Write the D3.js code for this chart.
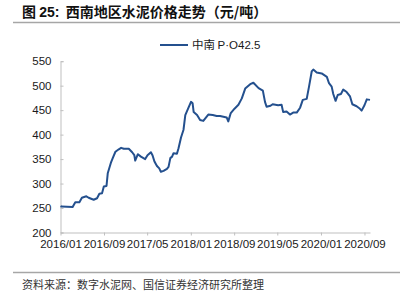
<!DOCTYPE html>
<html>
<head>
<meta charset="utf-8">
<script src="https://cdn.jsdelivr.net/npm/d3@7"></script>
<style>
  body { margin: 0; background: #fff; }
  svg { display: block; }
</style>
</head>
<body>
<div id="chart"></div>
<script>
// 中南 P·O42.5 price
var dates = [
  "2016-01-01", "2016-01-06", "2016-03-09", "2016-03-24", "2016-04-16", "2016-04-30",
  "2016-05-25", "2016-06-07", "2016-07-05", "2016-07-24", "2016-08-06", "2016-08-21",
  "2016-08-31", "2016-09-15", "2016-09-22", "2016-10-11", "2016-10-20", "2016-11-04",
  "2016-11-23", "2016-12-06", "2016-12-21", "2017-01-18", "2017-02-06", "2017-02-18",
  "2017-02-23", "2017-03-10", "2017-03-27", "2017-04-20", "2017-05-03", "2017-05-22",
  "2017-05-31", "2017-06-11", "2017-06-25", "2017-07-08", "2017-07-17", "2017-08-01",
  "2017-08-20", "2017-08-29", "2017-09-08", "2017-09-18", "2017-09-26", "2017-10-15",
  "2017-10-24", "2017-11-07", "2017-11-21", "2017-12-01", "2017-12-19", "2018-01-02",
  "2018-01-11", "2018-01-17", "2018-02-05", "2018-02-22", "2018-03-12", "2018-04-09",
  "2018-05-04", "2018-05-26", "2018-06-14", "2018-07-21", "2018-07-30", "2018-08-13",
  "2018-09-03", "2018-09-25", "2018-10-14", "2018-11-02", "2018-11-30", "2018-12-18",
  "2019-01-16", "2019-02-09", "2019-02-21", "2019-03-02", "2019-03-24", "2019-04-05",
  "2019-05-06", "2019-05-25", "2019-06-03", "2019-06-22", "2019-07-11", "2019-07-29",
  "2019-08-18", "2019-09-06", "2019-09-21", "2019-10-13", "2019-10-26", "2019-11-10",
  "2019-11-19", "2019-12-08", "2020-01-05", "2020-02-03", "2020-02-15", "2020-03-01",
  "2020-03-10", "2020-03-23", "2020-04-04", "2020-04-22", "2020-05-05", "2020-05-24",
  "2020-06-12", "2020-06-25", "2020-07-19", "2020-08-03", "2020-08-16", "2020-09-01",
  "2020-09-14", "2020-10-02"
];
var prices = [
  254, 253, 252, 262, 262, 271,
  274, 271, 267, 270, 279, 280,
  294, 295, 321, 344, 352, 365,
  370, 373, 371, 371, 364, 358,
  347, 360, 355, 350, 358, 364,
  358, 345, 336, 331, 324, 326,
  330, 334, 352, 355, 362, 361,
  372, 394, 410, 440, 455, 467,
  464, 446, 440, 430, 428, 441,
  440, 438, 438, 435, 427, 444,
  453, 461, 474, 494, 503, 506,
  495, 490, 467, 457, 459, 462,
  460, 461, 446, 447, 441, 445,
  445, 455, 471, 473, 498, 529,
  533, 527, 525, 518, 505, 498,
  483, 469, 481, 483, 492, 487,
  478, 462, 458, 454, 449, 460,
  472, 471
];
var seriesName = ["中南 ", "P·O42.5"];
var tickLabels = ["2016/01", "2016/09", "2017/05", "2018/01", "2018/09", "2019/05", "2020/01", "2020/09"];
var yTicks = [200, 250, 300, 350, 400, 450, 500, 550];
var titleParts = ["图 ", "25:", "  西南地区水泥价格走势（元/吨）"];
var source = "资料来源：数字水泥网、国信证券经济研究所整理";

var width = 406, height = 298;
var cjk = "'Noto Sans CJK SC', sans-serif";
var latin = "'Liberation Sans', Arial, sans-serif";
var parse = d3.timeParse("%Y-%m-%d");
var tickParse = d3.timeParse("%Y/%m");
var data = dates.map(function (d, i) { return { date: parse(d), value: prices[i] }; });

var svg = d3.select("#chart").append("svg")
    .attr("width", width)
    .attr("height", height);

var x = d3.scaleTime()
    .domain(d3.extent(data, function (d) { return d.date; }))
    .range([60.5, 370]);

var y = d3.scaleLinear()
    .domain([200, 550])
    .range([232.5, 61.2]);

// title + rules
var title = svg.append("text")
    .attr("x", 22)
    .attr("y", 16.5)
    .style("font-weight", "bold")
    .style("font-size", "14px")
    .style("fill", "#111")
    .style("white-space", "pre");
title.selectAll("tspan")
    .data(titleParts)
    .enter().append("tspan")
    .style("font-family", function (d, i) { return i === 1 ? latin : cjk; })
    .text(function (d) { return d; });

svg.append("line")
    .attr("x1", 13).attr("x2", 400)
    .attr("y1", 22.5).attr("y2", 22.5)
    .style("stroke", "#a6a6a6")
    .style("stroke-width", 1.5);

svg.append("line")
    .attr("x1", 13).attr("x2", 400)
    .attr("y1", 272.5).attr("y2", 272.5)
    .style("stroke", "#a6a6a6")
    .style("stroke-width", 1.5);

svg.append("text")
    .attr("x", 22)
    .attr("y", 289)
    .style("font-family", cjk)
    .style("font-size", "11px")
    .style("fill", "#333")
    .text(source);

// axes
var yAxis = d3.axisLeft(y)
    .tickValues(yTicks)
    .tickSize(-3)
    .tickPadding(9)
    .tickFormat(d3.format("d"));

var gy = svg.append("g")
    .attr("transform", "translate(60.5,0)")
    .call(yAxis);

var xAxis = d3.axisBottom(x)
    .tickValues(tickLabels.map(function (t) { return tickParse(t); }))
    .tickSizeInner(3)
    .tickSizeOuter(0)
    .tickPadding(4)
    .tickFormat(d3.timeFormat("%Y/%m"));

var gx = svg.append("g")
    .attr("transform", "translate(0,232.5)")
    .call(xAxis);

[gx, gy].forEach(function (g) {
    g.select(".domain").style("stroke", "#bfbfbf");
    g.selectAll(".tick line").style("stroke", "#bfbfbf");
    g.selectAll(".tick text")
        .style("font-family", latin)
        .style("font-size", "11.5px")
        .style("fill", "#1a1a1a");
});

// line
var line = d3.line()
    .x(function (d) { return x(d.date); })
    .y(function (d) { return y(d.value); });

svg.append("path")
    .datum(data)
    .attr("d", line)
    .style("fill", "none")
    .style("stroke", "#24508e")
    .style("stroke-width", 2)
    .style("stroke-linejoin", "round");

// legend
var legend = svg.append("g").attr("transform", "translate(160,45)");
legend.append("line")
    .attr("x1", 0).attr("x2", 28)
    .style("stroke", "#24508e")
    .style("stroke-width", 2);
legend.append("text")
    .attr("x", 32)
    .attr("dy", "0.35em")
    .style("font-size", "11.5px")
    .style("fill", "#1a1a1a")
    .style("white-space", "pre")
    .selectAll("tspan")
    .data(seriesName)
    .enter().append("tspan")
    .style("font-family", function (d, i) { return i === 1 ? latin : cjk; })
    .text(function (d) { return d; });
</script>
</body>
</html>
